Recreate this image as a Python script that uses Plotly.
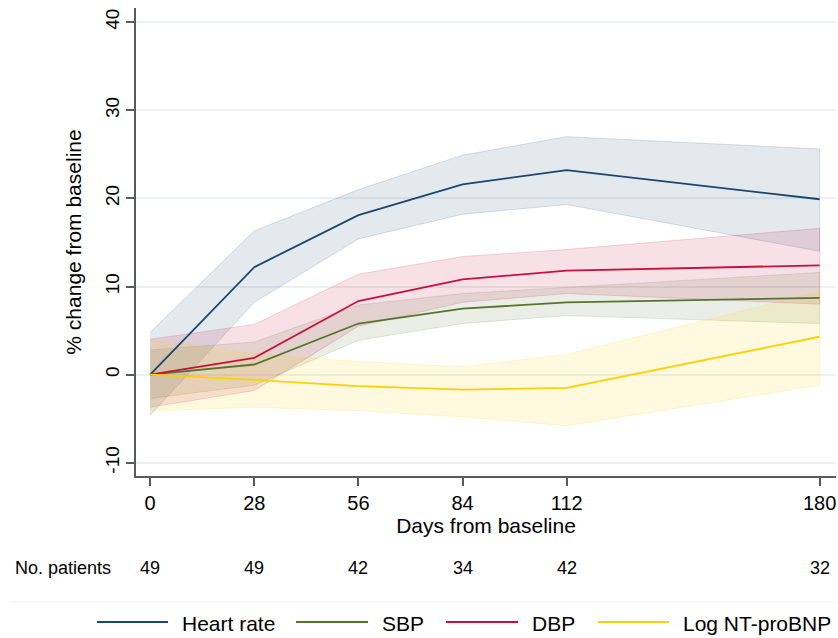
import plotly.graph_objects as go

days = [0, 28, 56, 84, 112, 180]
n_patients = [49, 49, 42, 34, 42, 32]

hr = [0, 12.2, 18.1, 21.6, 23.2, 19.9]
hr_lo = [-4.6, 8.2, 15.4, 18.2, 19.3, 14.0]
hr_hi = [4.8, 16.3, 21.0, 24.9, 27.0, 25.6]

sbp = [0, 1.15, 5.8, 7.5, 8.2, 8.7]
sbp_lo = [-2.7, -1.2, 3.9, 5.8, 6.7, 5.8]
sbp_hi = [2.8, 3.7, 7.9, 9.2, 9.9, 11.6]

dbp = [0, 1.9, 8.35, 10.8, 11.8, 12.4]
dbp_lo = [-3.7, -1.8, 5.5, 8.2, 9.2, 8.0]
dbp_hi = [4.0, 5.7, 11.4, 13.4, 14.2, 16.6]

nt = [0, -0.6, -1.3, -1.7, -1.5, 4.3]
nt_lo = [-4.1, -3.7, -4.1, -4.8, -5.8, -1.2]
nt_hi = [4.0, 2.4, 1.5, 0.9, 2.3, 9.4]

series_names = ["Heart rate", "SBP", "DBP", "Log NT-proBNP"]
series_rgb = [(26, 71, 111), (85, 117, 47), (193, 5, 52), (255, 208, 0)]
line_colors = ["#1a476f", "#55752f", "#c8103e", "#ffd000"]

y_ticks = [-10, 0, 10, 20, 30, 40]

FONT = "Liberation Sans, Arial, sans-serif"

fig = go.Figure()

series = [(hr, hr_lo, hr_hi), (sbp, sbp_lo, sbp_hi), (dbp, dbp_lo, dbp_hi), (nt, nt_lo, nt_hi)]

# confidence bands
for (mid, lo, hi), rgb, name in zip(series, series_rgb, series_names):
    r, g, b = rgb
    fig.add_trace(go.Scatter(
        x=days + days[::-1],
        y=hi + lo[::-1],
        fill="toself",
        fillcolor=f"rgba({r},{g},{b},0.12)",
        line=dict(color=f"rgba({r},{g},{b},0.16)", width=1),
        mode="lines",
        hoverinfo="skip",
        showlegend=False,
    ))

# mean lines
for (mid, lo, hi), col, name in zip(series, line_colors, series_names):
    fig.add_trace(go.Scatter(
        x=days, y=mid, mode="lines", name=name,
        line=dict(color=col, width=1.8),
        showlegend=False,
    ))

L, R, T, B = 136, 2, 8, 162
W, H = 838, 638
pw = W - L - R
ph = H - T - B


def px2paper_x(px):
    return (px - L) / pw


def px2paper_y(py):
    return (H - B - py) / ph


annotations = []
# No. patients row
annotations.append(dict(
    x=px2paper_x(13), y=px2paper_y(568), xref="paper", yref="paper",
    text="No. patients", showarrow=False, xanchor="left", yanchor="middle",
    font=dict(family=FONT, size=18, color="#000000"),
))
for d, n in zip(days, n_patients):
    annotations.append(dict(
        x=d, y=px2paper_y(568), xref="x", yref="paper",
        text=str(n), showarrow=False, xanchor="center", yanchor="middle",
        font=dict(family=FONT, size=18, color="#000000"),
    ))

# manual legend
legend_line_px = [(97, 168), (296, 368), (446, 518), (598, 669)]
legend_text_px = [180, 380, 530, 681]
shapes = []
ly = px2paper_y(622)
for (x0, x1), tx, col, name in zip(legend_line_px, legend_text_px, line_colors, series_names):
    shapes.append(dict(
        type="line", xref="paper", yref="paper",
        x0=px2paper_x(x0), x1=px2paper_x(x1), y0=ly, y1=ly,
        line=dict(color=col, width=2),
    ))
    annotations.append(dict(
        x=px2paper_x(tx), y=px2paper_y(623), xref="paper", yref="paper",
        text=name, showarrow=False, xanchor="left", yanchor="middle",
        font=dict(family=FONT, size=21, color="#000000"),
    ))

# faint legend box top line
shapes.append(dict(
    type="line", xref="paper", yref="paper",
    x0=px2paper_x(10), x1=px2paper_x(836), y0=px2paper_y(602), y1=px2paper_y(602),
    line=dict(color="#f2f2f2", width=1),
))

fig.update_layout(
    width=W, height=H,
    margin=dict(l=L, r=R, t=T, b=B),
    paper_bgcolor="white",
    plot_bgcolor="white",
    showlegend=False,
    font=dict(family=FONT, color="#000000"),
    shapes=shapes,
    annotations=annotations,
    xaxis=dict(
        range=[-3.8, 184.4],
        tickvals=days,
        ticktext=[str(d) for d in days],
        showgrid=False,
        zeroline=False,
        showline=True,
        linecolor="#5a5a5a",
        linewidth=1.5,
        ticks="outside",
        ticklen=8,
        tickwidth=1.5,
        tickcolor="#5a5a5a",
        tickfont=dict(family=FONT, size=20, color="#000000"),
        title=dict(text="Days from baseline", font=dict(family=FONT, size=21, color="#000000"), standoff=2),
    ),
    yaxis=dict(
        range=[-11.5, 41.6],
        tickvals=y_ticks,
        ticktext=[str(v) for v in y_ticks],
        tickangle=-90,
        showgrid=True,
        gridcolor="#eaf2f3",
        gridwidth=1.5,
        zeroline=False,
        showline=True,
        linecolor="#5a5a5a",
        linewidth=1.5,
        ticks="outside",
        ticklen=8,
        tickwidth=1.5,
        tickcolor="#5a5a5a",
        tickfont=dict(family=FONT, size=19, color="#000000"),
        title=dict(text="% change from baseline", font=dict(family=FONT, size=21, color="#000000"), standoff=14),
    ),
)

fig.write_html("out.html")
